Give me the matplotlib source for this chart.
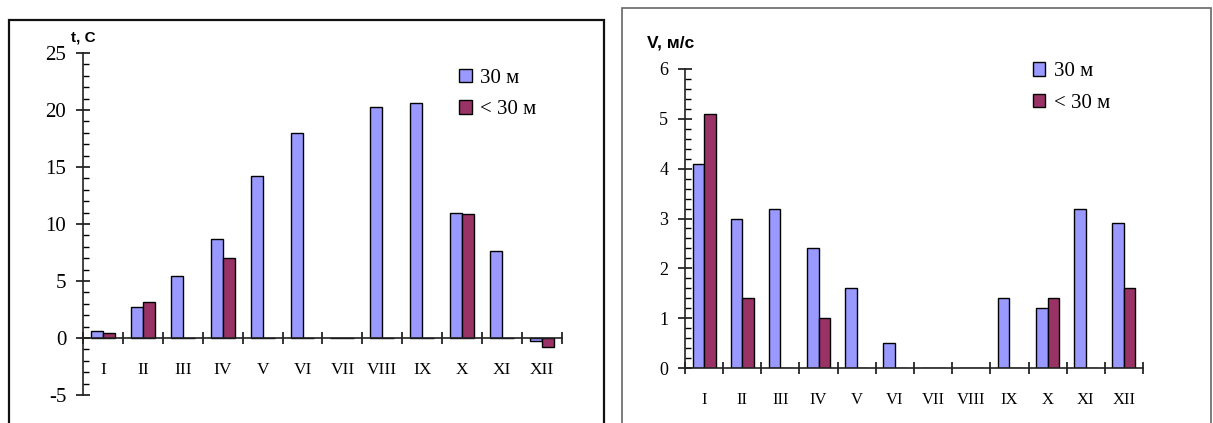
import matplotlib.pyplot as plt
import numpy as np
from matplotlib.patches import Rectangle

months = ["I", "II", "III", "IV", "V", "VI", "VII", "VIII", "IX", "X", "XI", "XII"]
series_names = ["30 м", "< 30 м"]

# temperature, t C
temp_30 = [0.6, 2.7, 5.4, 8.7, 14.2, 18.0, 0, 20.3, 20.6, 11.0, 7.6, -0.3]
temp_lt30 = [0.4, 3.2, 0, 7.0, 0, 0, 0, 0, 0, 10.9, 0, -0.8]

# current speed, V m/s
speed_30 = [4.1, 3.0, 3.2, 2.4, 1.6, 0.5, 0, 0, 1.4, 1.2, 3.2, 2.9]
speed_lt30 = [5.1, 1.4, 0, 1.0, 0, 0, 0, 0, 0, 1.4, 0, 1.6]

blue = "#9999FF"
maroon = "#993366"

plt.rcParams["axes.unicode_minus"] = False
serif = ["Liberation Serif", "DejaVu Serif"]
sans = ["Liberation Sans", "DejaVu Sans"]

fig = plt.figure(figsize=(12.13, 4.23), dpi=100)

# frames round each chart
fig.patches.append(Rectangle((0.0074, -0.02), 0.4905, 0.9727, transform=fig.transFigure,
                             fill=False, edgecolor="#111111", linewidth=1.6))
fig.patches.append(Rectangle((0.5128, -0.02), 0.4856, 1.001, transform=fig.transFigure,
                             fill=False, edgecolor="#666666", linewidth=1.2))


def draw_panel(ax, a, b, ymin, ymax, major, minor, tick_fs, label_fs, label_pad):
    x = np.arange(len(months))
    w = 0.3
    ax.bar(x - w / 2, a, w, color=blue, edgecolor="black", linewidth=1.0, label=series_names[0])
    ax.bar(x + w / 2, b, w, color=maroon, edgecolor="black", linewidth=1.0, label=series_names[1])
    ax.set_xlim(-0.5, len(months) - 0.5)
    ax.set_ylim(ymin, ymax)
    for s in ["top", "right"]:
        ax.spines[s].set_visible(False)
    ax.spines["bottom"].set_position(("data", 0))
    ax.spines["left"].set_bounds(ymin, ymax)
    for s in ["bottom", "left"]:
        ax.spines[s].set_linewidth(1.2)
        ax.spines[s].set_color("#222222")
    ax.set_xticks(x)
    ax.set_xticklabels(months, fontfamily=serif, fontsize=label_fs)
    ax.set_xticks(np.arange(-0.5, len(months)), minor=True)
    ax.tick_params(axis="x", which="major", length=0, pad=label_pad)
    ax.tick_params(axis="x", which="minor", direction="inout", length=9, width=1.1)
    ax.set_yticks(np.arange(ymin, ymax + 0.001, major))
    ax.set_yticks(np.arange(ymin, ymax + 0.001, minor), minor=True)
    ax.tick_params(axis="y", which="major", direction="inout", length=10, width=1.1,
                   labelsize=tick_fs, pad=7)
    ax.tick_params(axis="y", which="minor", direction="in", length=4, width=1.0)
    for lab in ax.get_yticklabels():
        lab.set_fontfamily(serif)
    ax.patch.set_visible(False)


def add_legend(ax, x0, y0):
    ax.legend(loc="upper left", bbox_to_anchor=(x0, y0), bbox_transform=fig.transFigure,
              frameon=False, prop={"family": serif, "size": 15}, handlelength=0.6,
              handleheight=0.6, handletextpad=0.4, labelspacing=0.6, borderpad=0)


ax1 = fig.add_axes([0.0684, 0.0662, 0.3949, 0.8085])
draw_panel(ax1, temp_30, temp_lt30, -5, 25, 5, 1, 15, 12.5, 17)
add_legend(ax1, 0.370, 0.862)
fig.text(0.069, 0.912, "t, C", fontfamily=sans, fontweight="bold", fontsize=11,
         ha="center", va="center")

ax2 = fig.add_axes([0.5647, 0.1300, 0.3776, 0.7069])
draw_panel(ax2, speed_30, speed_lt30, 0, 6, 1, 0.2, 13, 12, 17)
add_legend(ax2, 0.843, 0.877)
fig.text(0.553, 0.898, "V, м/с", fontfamily=sans, fontweight="bold", fontsize=12.5,
         ha="center", va="center")

fig.savefig("out.png", dpi=100)
